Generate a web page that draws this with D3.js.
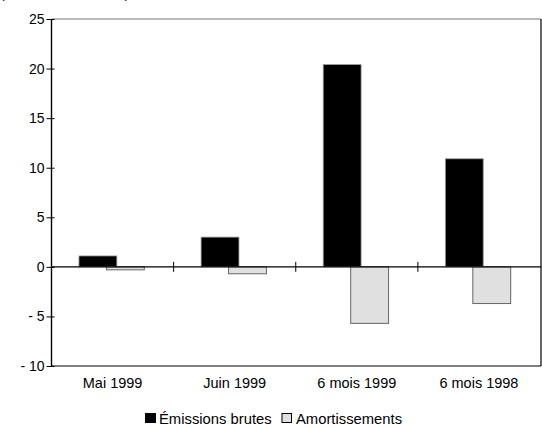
<!DOCTYPE html>
<html><head><meta charset="utf-8">
<script src="https://cdn.jsdelivr.net/npm/d3@7/dist/d3.min.js"></script>
<style>body{margin:0;background:#fff}svg{display:block;font-family:"Liberation Sans",Arial,sans-serif}</style>
</head><body><svg id="c" width="542" height="428"></svg>
<script>
const categories = ["Mai 1999", "Juin 1999", "6 mois 1999", "6 mois 1998"];
const emissions = [1.1, 3.0, 20.4, 10.9];
const amortissements = [-0.3, -0.7, -5.7, -3.7];
const seriesNames = ["Émissions brutes", "Amortissements"];
const yTicks = [-10, -5, 0, 5, 10, 15, 20, 25];
const yTickLabels = ["- 10", "- 5", "0", "5", "10", "15", "20", "25"];

const FONT = "'Liberation Sans', Arial, sans-serif";
const svg = d3.select("#c");
const L = 51.5, R = 540, T = 19, B = 366;
const x = d3.scaleBand().domain(categories).range([L, R]);
const y = d3.scaleLinear().domain([-10, 25]).range([B, T]);
const bw = x.bandwidth();
const barW = bw * 0.31;

// clipped subtitle at top
svg.append("text").attr("x", 0).attr("y", -2).attr("font-size", 14).attr("font-family", FONT).text("(en milliards d'euros)");

// frame
svg.append("line").attr("x1", L).attr("x2", R+1).attr("y1", y(25)).attr("y2", y(25)).attr("stroke", "#777").attr("stroke-width", 1.2);
svg.append("line").attr("x1", R+1).attr("x2", R+1).attr("y1", y(25)).attr("y2", y(-10)).attr("stroke", "#000").attr("stroke-width", 1.2);

// bars
const g = svg.append("g");
g.selectAll("rect.e").data(categories).join("rect")
  .attr("x", d => x(d) + bw * 0.225)
  .attr("width", barW)
  .attr("y", (d, i) => y(Math.max(0, emissions[i])))
  .attr("height", (d, i) => Math.abs(y(emissions[i]) - y(0)))
  .attr("fill", "#000").attr("stroke", "#999").attr("stroke-width", 0.8);
g.selectAll("rect.a").data(categories).join("rect")
  .attr("x", d => x(d) + bw * 0.45)
  .attr("width", barW)
  .attr("y", (d, i) => y(Math.max(0, amortissements[i])))
  .attr("height", (d, i) => Math.abs(y(amortissements[i]) - y(0)))
  .attr("fill", "#e0e0e0").attr("stroke", "#666").attr("stroke-width", 1);

// zero line with category ticks
svg.append("line").attr("x1", L).attr("x2", R+1).attr("y1", y(0)).attr("y2", y(0)).attr("stroke", "#000").attr("stroke-width", 1.2);
svg.selectAll("line.ct").data(categories.slice(1)).join("line")
  .attr("x1", d => x(d)).attr("x2", d => x(d))
  .attr("y1", y(0) - 5).attr("y2", y(0) + 5).attr("stroke", "#000");

// bottom axis line
svg.append("line").attr("x1", L).attr("x2", R+1).attr("y1", y(-10)).attr("y2", y(-10)).attr("stroke", "#000").attr("stroke-width", 1.2);

// y axis
const yAxis = d3.axisLeft(y).tickValues(yTicks).tickSize(5).tickPadding(2)
  .tickFormat(d => yTickLabels[yTicks.indexOf(d)]);
const ya = svg.append("g").attr("transform", `translate(${L},0)`).call(yAxis);
ya.select(".domain").attr("stroke", "#000").attr("stroke-width", 1.4).attr("d", `M0,${T}V${B}`);
ya.selectAll(".tick line").attr("x1", 3).attr("x2", -5).attr("stroke", "#000");
ya.selectAll("text").attr("font-size", 14).attr("fill", "#000").attr("font-family", FONT);

// x labels
const xAxis = d3.axisBottom(x).tickSize(0).tickPadding(12);
const xa = svg.append("g").attr("transform", `translate(0,${B})`).call(xAxis);
xa.select(".domain").remove();
xa.selectAll("text").attr("font-size", 14.5).attr("fill", "#000").attr("font-family", FONT);

// legend
const lg = svg.append("g").attr("font-size", 14.8).attr("font-family", FONT);
const lx = 145, ly = 424;
lg.append("rect").attr("x", lx).attr("y", ly - 11).attr("width", 11).attr("height", 10).attr("fill", "#000");
lg.append("text").attr("x", lx + 14).attr("y", ly).text(seriesNames[0]);
lg.append("rect").attr("x", lx + 137).attr("y", ly - 10.5).attr("width", 9.5).attr("height", 9).attr("fill", "#e0e0e0").attr("stroke", "#000").attr("stroke-width", 1);
lg.append("text").attr("x", lx + 151).attr("y", ly).text(seriesNames[1]);
</script></body></html>
